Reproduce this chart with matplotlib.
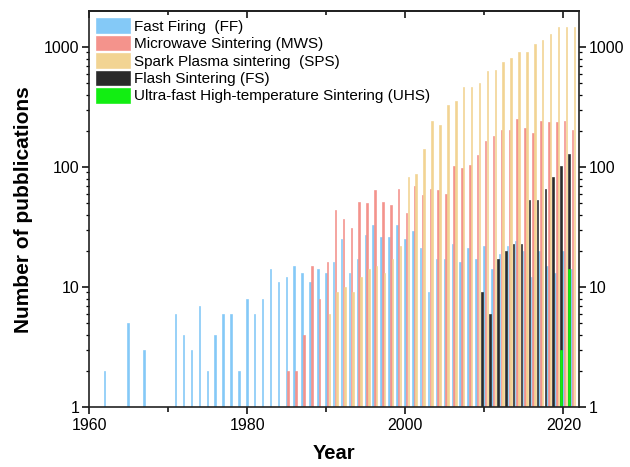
import matplotlib
matplotlib.use("Agg")
import matplotlib.pyplot as plt
from matplotlib.ticker import LogLocator, FixedLocator, NullFormatter, FuncFormatter

plt.rcParams['font.family'] = ['Liberation Sans', 'DejaVu Sans']

# ---------------- data ----------------
ff_years = [1962, 1965, 1967, 1971, 1972, 1973, 1974, 1975, 1976, 1977, 1978, 1979,
            1980, 1981, 1982, 1983, 1984, 1985, 1986, 1987, 1988, 1989, 1990, 1991,
            1992, 1993, 1994, 1995, 1996, 1997, 1998, 1999, 2000, 2001, 2002, 2003,
            2004, 2005, 2006, 2007, 2008, 2009, 2010, 2011, 2012, 2013, 2014, 2015,
            2016, 2017, 2018, 2019, 2020, 2021]
ff_values = [2, 5, 3, 6, 4, 3, 7, 2, 4, 6, 6, 2,
             8, 6, 8, 14, 11, 12, 15, 13, 11, 14, 13, 16,
             25, 13, 17, 27, 33, 26, 26, 33, 25, 29, 21, 9,
             17, 17, 23, 16, 21, 17, 22, 14, 19, 22, 24, 20,
             12, 20, 15, 13, 20, 14]

mws_years = list(range(1985, 2022))
mws_values = [2, 2, 4, 15, 8, 16, 44, 37, 31, 51, 50, 64, 51, 48, 66, 41, 70, 58, 66,
              64, 60, 102, 98, 104, 126, 165, 182, 204, 204, 253, 212, 191, 243, 237,
              237, 240, 204]

sps_years = list(range(1990, 2022))
sps_values = [6, 9, 10, 9, 12, 14, 15, 13, 17, 22, 82, 87, 140, 240, 225, 330, 355,
              460, 465, 505, 630, 645, 750, 810, 915, 915, 1060, 1140, 1285, 1475,
              1475, 1475]

fs_years = list(range(2010, 2022))
fs_values = [9, 6, 17, 20, 23, 23, 53, 53, 65, 83, 102, 128]

uhs_years = [2020, 2021]
uhs_values = [3, 14]

labels = ["Fast Firing  (FF)", "Microwave Sintering (MWS)",
          "Spark Plasma sintering  (SPS)", "Flash Sintering (FS)",
          "Ultra-fast High-temperature Sintering (UHS)"]
colors = ["#84C9F7", "#F4938C", "#F2D493", "#2B2B2B", "#12EE12"]

# ---------------- figure ----------------
fig = plt.figure(figsize=(6.3, 4.67), dpi=100)
ax = fig.add_axes([0.1417, 0.1285, 0.9195 - 0.1417, 0.9754 - 0.1285])
ax.set_yscale('log')

w = 0.19
series = [
    (ff_years, ff_values, -0.07),
    (mws_years, mws_values, 0.15),
    (sps_years, sps_values, 0.37),
    (fs_years, fs_values, -0.3),
    (uhs_years, uhs_values, -0.3),
]
handles = []
for (yrs, vals, off), lab, col in zip(series, labels, colors):
    b = ax.bar([y + off for y in yrs], vals, width=w, color=col, edgecolor=col,
               label=lab, linewidth=0.45)
    handles.append(b)

ax.set_ylim(1, 1975)
ax.set_xlim(1960, 2022)

ax.xaxis.set_major_locator(FixedLocator([1960, 1980, 2000, 2020]))
ax.xaxis.set_minor_locator(FixedLocator([1970, 1990, 2010]))
ax.yaxis.set_major_locator(LogLocator(base=10, numticks=10))
ax.yaxis.set_minor_locator(LogLocator(base=10, subs=range(2, 10), numticks=20))
ax.yaxis.set_major_formatter(FuncFormatter(lambda v, p: f"{int(round(v))}"))
ax.yaxis.set_minor_formatter(NullFormatter())

ax.tick_params(axis='x', which='major', direction='out', length=5, width=1.1,
               labelsize=11.5, pad=3, top=False)
ax.tick_params(axis='x', which='minor', direction='out', length=3.5, width=1.1, top=False)
ax.tick_params(axis='y', which='major', direction='out', length=5, width=1.1,
               labelsize=11.5, left=True, right=True, labelleft=True, labelright=True, pad=2)
ax.tick_params(axis='y', which='minor', direction='out', length=2.5, width=0.9,
               left=True, right=True)

sec = ax.secondary_xaxis('top')
sec.xaxis.set_major_locator(FixedLocator([1960, 1980, 2000, 2020]))
sec.xaxis.set_minor_locator(FixedLocator([1970, 1990, 2010]))
sec.tick_params(axis='x', which='major', direction='in', length=5, width=1.1, labeltop=False)
sec.tick_params(axis='x', which='minor', direction='in', length=3, width=1.1)
sec.spines['top'].set_linewidth(1.2)

for s in ax.spines.values():
    s.set_linewidth(1.2)
    s.set_color('#222222')

ax.set_xlabel("Year", fontsize=14.5, fontweight='bold', labelpad=8)
ax.set_ylabel("Number of pubblications", fontsize=15, fontweight='bold', labelpad=8)

leg = ax.legend(handles=handles, loc='upper left', frameon=False, fontsize=11,
                handlelength=2.2, handleheight=1.08, labelspacing=0.13,
                handletextpad=0.3, borderaxespad=0.25, borderpad=0.2)

fig.savefig("out.png", dpi=100)
